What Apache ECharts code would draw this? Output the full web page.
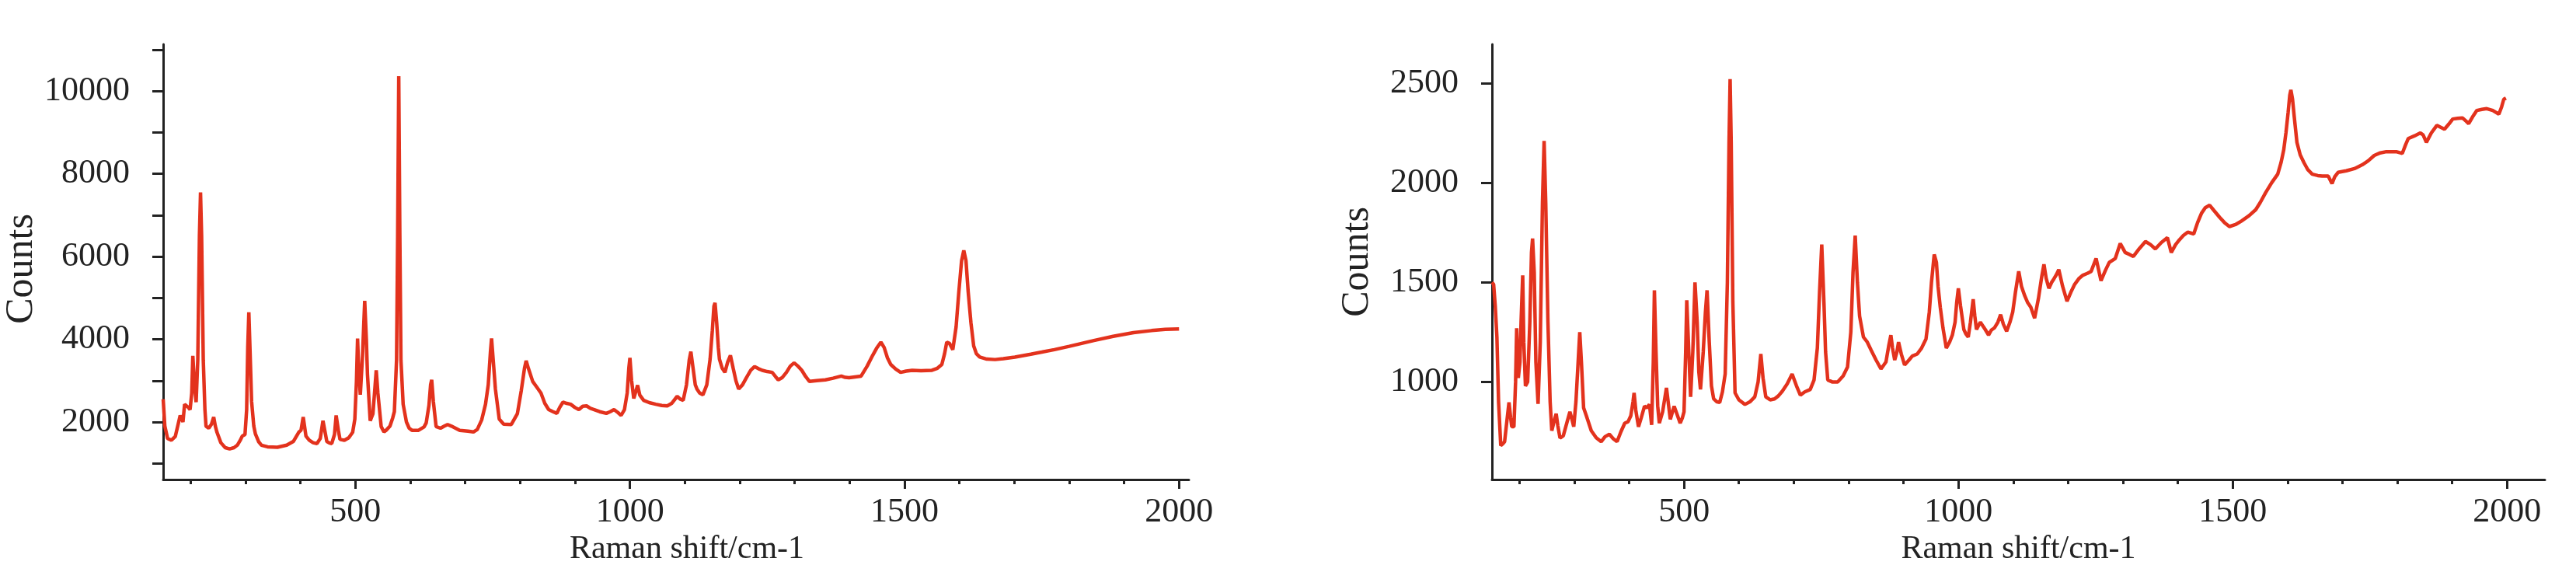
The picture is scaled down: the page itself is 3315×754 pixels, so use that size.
<!DOCTYPE html>
<html>
<head>
<meta charset="utf-8">
<title>Raman spectra</title>
<script src="https://cdn.jsdelivr.net/npm/echarts@6/dist/echarts.min.js"></script>
<style>
  html, body { margin: 0; padding: 0; background: #fff; }
  #chart { width: 3315px; height: 754px; }
</style>
</head>
<body>
<div id="chart"></div>
<script>
// left spectrum
const shiftA = [150,153,158,165,172,181,186,189,196,199,202,204,207,210,213,216,218,220,223,226,228,233,238,242,245,248,255,263,271,279,285,290,294,299,302,304,306,308,311,315,318,324,329,340,358,375,387,397,401,405,410,416,423,430,436,441,448,453,457,462,465,469,472,480,488,495,499,502,504,506,509,513,517,520,522,527,532,536,538,541,547,552,556,563,568,571,575,577,579,581,583,587,593,598,603,615,625,629,634,637,639,642,647,655,662,668,675,690,705,715,722,730,737,742,746,748,751,755,762,770,784,795,802,808,811,815,823,830,838,845,852,860,867,872,878,885,892,900,907,914,921,928,935,945,957,964,971,978,984,990,995,998,1000,1003,1007,1011,1014,1018,1025,1035,1047,1058,1068,1076,1086,1092,1097,1103,1108,1111,1114,1119,1122,1127,1133,1140,1146,1150,1153,1155,1158,1161,1163,1168,1173,1178,1183,1188,1193,1198,1205,1212,1220,1227,1234,1241,1250,1259,1265,1270,1277,1285,1292,1299,1306,1313,1320,1327,1340,1356,1370,1385,1392,1399,1410,1421,1432,1442,1450,1457,1463,1469,1475,1484,1493,1503,1514,1530,1550,1560,1568,1573,1577,1582,1588,1594,1599,1604,1608,1612,1616,1621,1626,1631,1637,1650,1665,1680,1701,1730,1750,1773,1800,1845,1880,1917,1950,1975,2000];
const countsA = [2550,1900,1600,1560,1650,2160,2000,2430,2350,2300,2700,3600,2900,2480,3500,6500,7550,6500,3500,2300,1900,1850,1950,2120,1900,1750,1500,1380,1350,1380,1440,1550,1660,1700,2300,3800,4650,3800,2500,1900,1710,1520,1440,1400,1390,1440,1530,1755,1800,2120,1660,1560,1500,1480,1600,2030,1530,1490,1480,1700,2160,1800,1580,1560,1620,1750,2070,3000,4020,3300,2660,3600,4930,4000,3160,2030,2200,2900,3250,2700,1890,1760,1800,1900,2100,2250,3500,6500,10360,6500,3500,2430,2000,1850,1800,1800,1880,1980,2400,2900,3020,2500,1890,1850,1900,1940,1900,1800,1780,1760,1820,2050,2430,2900,3700,4020,3500,2800,2070,1950,1940,2200,2750,3300,3480,3300,2980,2850,2700,2450,2300,2250,2210,2350,2480,2450,2430,2350,2300,2380,2390,2330,2300,2250,2210,2250,2300,2230,2160,2300,2700,3300,3550,3000,2570,2750,2890,2650,2525,2470,2430,2400,2390,2450,2620,2550,2525,2900,3500,3700,3400,2900,2800,2700,2660,2900,3520,4200,4800,4880,4400,3800,3520,3300,3200,3450,3610,3300,3000,2800,2900,3070,3250,3340,3290,3250,3220,3200,3100,3020,3070,3200,3350,3430,3350,3250,3100,2980,3000,3020,3060,3110,3080,3070,3090,3110,3350,3610,3800,3930,3800,3550,3390,3280,3200,3230,3250,3240,3250,3300,3390,3650,3930,3900,3750,4300,5150,5900,6150,5900,5150,4400,3840,3650,3570,3520,3510,3530,3570,3640,3690,3750,3830,3970,4070,4160,4210,4240,4250];

// right spectrum
const shiftB = [150,153,156,159,162,166,170,173,177,181,184,186,190,193,195,198,201,203,206,208,211,215,219,222,224,227,230,234,238,242,245,248,252,256,259,263,267,270,274,280,287,292,296,299,303,307,310,313,317,322,331,340,349,356,364,371,378,385,392,398,403,407,409,412,417,422,428,432,437,441,444,446,449,452,455,461,468,472,475,479,482,487,493,497,500,503,505,508,512,516,520,524,527,530,535,539,542,546,550,554,560,565,570,575,579,582,584,586,589,593,600,611,620,629,635,640,644,649,657,665,672,679,688,697,705,712,720,730,737,743,747,751,755,758,762,770,780,790,798,804,808,812,816,820,827,834,841,850,859,868,873,877,880,884,888,891,896,902,910,916,925,933,941,947,951,956,960,963,967,972,978,984,989,994,997,1000,1004,1010,1014,1018,1022,1027,1030,1033,1040,1045,1049,1055,1060,1066,1072,1077,1082,1088,1094,1099,1104,1110,1115,1121,1126,1132,1139,1146,1152,1156,1160,1165,1170,1174,1179,1183,1190,1198,1205,1212,1220,1227,1235,1242,1251,1255,1260,1268,1275,1286,1295,1300,1304,1312,1319,1330,1341,1350,1359,1370,1381,1388,1396,1403,1410,1418,1429,1436,1443,1450,1458,1466,1476,1485,1494,1505,1516,1530,1542,1550,1560,1571,1582,1588,1593,1597,1601,1604,1606,1609,1612,1617,1623,1630,1637,1645,1655,1663,1674,1681,1686,1692,1707,1722,1736,1747,1758,1769,1780,1798,1809,1815,1820,1831,1842,1847,1853,1862,1872,1886,1894,1901,1910,1919,1925,1930,1937,1945,1954,1963,1974,1985,1990,1994,1998];
const countsB = [1500,1490,1380,1225,900,680,690,700,800,897,820,775,775,1000,1270,1020,1100,1300,1535,1200,980,1000,1300,1650,1720,1550,1100,890,1200,1900,2210,1900,1300,900,755,800,840,780,718,730,800,850,810,775,900,1100,1250,1100,870,830,755,720,700,725,737,715,700,750,793,800,830,900,945,860,775,820,878,870,887,784,1100,1460,1150,880,793,850,970,880,812,850,878,840,793,820,850,1150,1410,1200,925,1150,1500,1300,1050,962,1150,1350,1460,1200,980,915,900,897,950,1040,1500,2200,2520,2200,1400,945,910,887,900,925,1000,1140,1020,925,910,915,930,953,990,1040,980,934,950,962,1010,1170,1450,1690,1400,1150,1010,1000,1000,1030,1075,1250,1550,1735,1500,1330,1225,1200,1160,1110,1065,1100,1180,1235,1170,1110,1150,1200,1140,1085,1110,1130,1140,1170,1215,1350,1500,1640,1600,1480,1375,1270,1170,1200,1235,1300,1400,1470,1380,1263,1240,1225,1300,1415,1330,1263,1300,1280,1263,1235,1260,1272,1300,1338,1290,1254,1300,1350,1450,1555,1480,1432,1400,1375,1320,1420,1530,1590,1520,1470,1500,1517,1540,1564,1480,1405,1450,1490,1520,1536,1545,1555,1620,1570,1508,1560,1600,1620,1695,1670,1650,1640,1630,1670,1705,1690,1668,1700,1724,1650,1690,1714,1735,1752,1743,1800,1846,1875,1887,1860,1827,1800,1780,1790,1808,1835,1865,1900,1950,2000,2043,2100,2165,2250,2353,2440,2466,2420,2335,2203,2140,2100,2065,2043,2036,2034,2034,1996,2030,2052,2060,2071,2090,2110,2137,2150,2156,2156,2147,2190,2222,2235,2250,2240,2203,2250,2288,2269,2295,2320,2323,2325,2310,2297,2330,2363,2368,2372,2363,2344,2380,2419,2425];

// ticks and labels
const xMinorTicks = [200,300,400,500,600,700,800,900,1000,1100,1200,1300,1400,1500,1600,1700,1800,1900,2000];
const xMajorTicks = [500,1000,1500,2000];
const xLabels = [500,1000,1500,2000];
const yTicksA = [1000,2000,3000,4000,5000,6000,7000,8000,9000,10000,11000];
const yLabelsA = [2000,4000,6000,8000,10000];
const yTicksB = [1000,1500,2000,2500];
const yLabelsB = [1000,1500,2000,2500];

const FONT = "Liberation Serif";
const INK = "#222";
const RED = "#e3321d";

function pairs(xs, ys) {
  return xs.map((x, i) => [x, ys[i]]);
}

const plain = (v) => String(v);

// main x axis: line, short ticks, labels and name
function xMain(grid, max, namePad) {
  return {
    type: "value", gridIndex: grid, min: 150, max: max,
    name: "Raman shift/cm-1", nameLocation: "middle", nameGap: 60,
    nameTextStyle: { fontFamily: FONT, fontSize: 42, color: INK, padding: namePad },
    axisLine: { show: true, onZero: false, lineStyle: { color: INK, width: 3 } },
    axisTick: { show: true, inside: false, length: 6, customValues: xMinorTicks, lineStyle: { color: INK, width: 3 } },
    axisLabel: { show: true, customValues: xLabels, formatter: plain, margin: 20, fontFamily: FONT, fontSize: 44, color: INK },
    splitLine: { show: false },
  };
}

// second x axis that only carries the longer ticks at 500 steps
function xMajor(grid, max) {
  return {
    type: "value", gridIndex: grid, min: 150, max: max, position: "bottom",
    axisLine: { show: false, onZero: false },
    axisTick: { show: true, length: 12, customValues: xMajorTicks, lineStyle: { color: INK, width: 3 } },
    axisLabel: { show: false },
    splitLine: { show: false },
  };
}

function yAxis(grid, min, max, ticks, labels, gap, namePad) {
  return {
    type: "value", gridIndex: grid, min: min, max: max,
    name: "Counts", nameLocation: "middle", nameGap: gap,
    nameTextStyle: { fontFamily: FONT, fontSize: 50, color: INK, padding: namePad },
    axisLine: { show: true, onZero: false, lineStyle: { color: INK, width: 3 } },
    axisTick: { show: true, length: 14, customValues: ticks, lineStyle: { color: INK, width: 3 } },
    axisLabel: { show: true, customValues: labels, formatter: plain, margin: 43, fontFamily: FONT, fontSize: 44, color: INK },
    splitLine: { show: false },
  };
}

function spectrum(grid, data) {
  return {
    type: "line", xAxisIndex: grid * 2, yAxisIndex: grid,
    data: data, showSymbol: false, smooth: false,
    lineStyle: { color: RED, width: 4.5 },
    animation: false,
  };
}

const chart = echarts.init(document.getElementById("chart"));
chart.setOption({
  backgroundColor: "#fff",
  animation: false,
  grid: [
    { left: 210, width: 1320, top: 57, bottom: 137, containLabel: false },
    { left: 1920, right: 40, top: 57, bottom: 137, containLabel: false },
  ],
  xAxis: [
    xMain(0, 2018, [0, 0, 0, 28]), xMajor(0, 2018),
    xMain(1, 2069, [0, 0, 0, 0]), xMajor(1, 2069),
  ],
  yAxis: [
    yAxis(0, 610, 11130, yTicksA, yLabelsA, 148, [0, 18, 0, 0]),
    yAxis(1, 510, 2695, yTicksB, yLabelsB, 148, [0, 0, 0, 0]),
  ],
  series: [
    spectrum(0, pairs(shiftA, countsA)),
    spectrum(1, pairs(shiftB, countsB)),
  ],
});
</script>
</body>
</html>
